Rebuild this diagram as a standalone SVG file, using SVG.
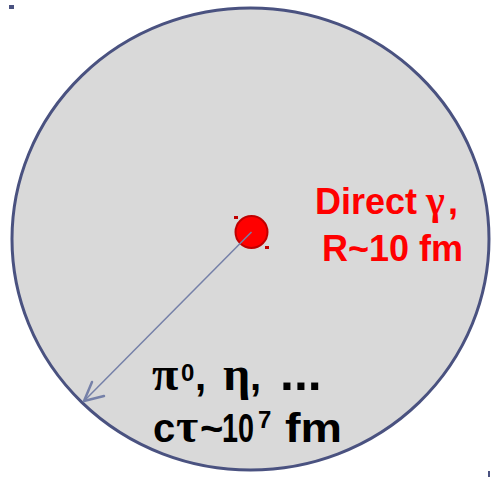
<svg xmlns="http://www.w3.org/2000/svg" width="491" height="477" viewBox="0 0 491 477">
<defs>
<style>
.red{fill:#ff0000;font-family:"Liberation Sans",Arial,sans-serif;font-weight:bold;font-size:36px}
.blk{fill:#000;font-family:"Liberation Sans",Arial,sans-serif;font-weight:bold;font-size:40px}
.gr{font-family:"Liberation Serif","Times New Roman",serif}
.gb{font-size:48px}
.sup{font-size:24px}
.mk{fill:#4a5280}
</style>
</defs>
<rect width="491" height="477" fill="#fff"/>
<rect class="mk" x="9" y="5" width="5" height="4"/>
<rect class="mk" x="488" y="471" width="2" height="6"/>
<g id="region">
<ellipse cx="250.5" cy="239" rx="238.5" ry="231" fill="#d9d9d9" stroke="#4a5280" stroke-width="3"/>
</g>
<g id="source">
<circle cx="251.5" cy="232" r="16" fill="#ff0000" stroke="#c00000" stroke-width="2"/>
<rect x="234" y="216" width="4" height="3" fill="#c00000"/>
<rect x="265" y="246" width="4" height="3" fill="#c00000"/>
</g>
<g id="connectors">
<line x1="251.5" y1="232" x2="84" y2="401" stroke="#7580a8" stroke-width="1.5"/>
<polyline points="92,382 84,401 104,396" fill="none" stroke="#7580a8" stroke-width="2.5" stroke-linecap="round" stroke-linejoin="round"/>
</g>
<g id="labels">
<text class="red" x="315" y="214">Direct <tspan class="gr" x="426" font-size="40">γ</tspan><tspan x="448">,</tspan></text>
<text class="red" x="322" y="261">R~10 fm</text>
<text class="blk" y="390"><tspan class="gr gb" x="152">π</tspan><tspan class="sup" x="181" y="381">0</tspan><tspan x="195" y="390">,</tspan><tspan class="gr gb" x="223">η</tspan><tspan x="250">,</tspan><tspan x="280" font-size="50">...</tspan></text>
<text class="blk" y="442"><tspan x="153">c</tspan><tspan class="gr gb" x="176">τ</tspan><tspan x="200">~</tspan><tspan x="222" textLength="32" lengthAdjust="spacingAndGlyphs">10</tspan><tspan class="sup" x="258" y="428">7</tspan><tspan x="285" y="442" textLength="57" lengthAdjust="spacingAndGlyphs">fm</tspan></text>
</g>
</svg>
